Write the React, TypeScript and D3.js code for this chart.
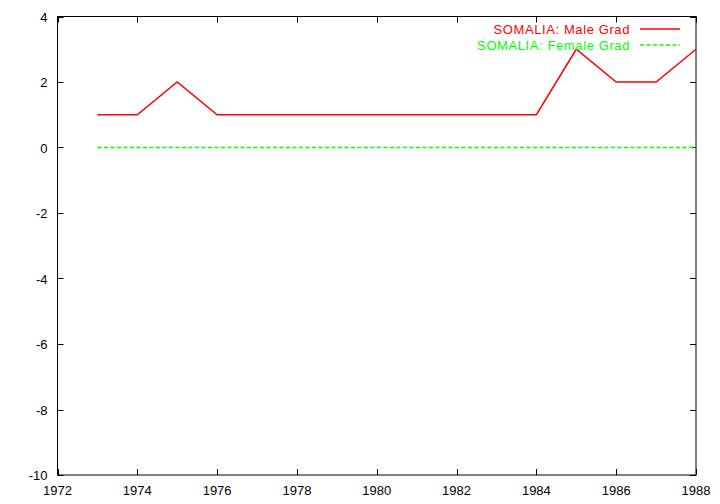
import React, { useRef, useEffect } from 'react';
import * as d3 from 'd3';

const years = [1973, 1974, 1975, 1976, 1977, 1978, 1979, 1980, 1981, 1982, 1983, 1984, 1985, 1986, 1987, 1988];
const maleGrad = [1, 1, 2, 1, 1, 1, 1, 1, 1, 1, 1, 1, 3, 2, 2, 3];
const femaleGrad = [0, 0, 0, 0, 0, 0, 0, 0, 0, 0, 0, 0, 0, 0, 0, 0];
const xTicks = [1972, 1974, 1976, 1978, 1980, 1982, 1984, 1986, 1988];
const yTicks = [-10, -8, -6, -4, -2, 0, 2, 4];

const W = 720;
const H = 504;
const margin = { left: 57.5, right: 24, top: 16.5, bottom: 29 };

const App: React.FC = () => {
  const svgRef = useRef<SVGSVGElement>(null);

  useEffect(() => {
    if (!svgRef.current) return;
    const svg = d3.select(svgRef.current);
    svg.selectAll('*').remove();

    const x = d3.scaleLinear().domain([1972, 1988]).range([margin.left, W - margin.right]);
    const y = d3.scaleLinear().domain([-10, 4]).range([H - margin.bottom, margin.top]);
    const font = 'Liberation Sans, Arial, Helvetica, sans-serif';
    const tick = 6;

    // frame
    svg.append('rect')
      .attr('x', x(1972)).attr('y', y(4))
      .attr('width', x(1988) - x(1972)).attr('height', y(-10) - y(4))
      .attr('fill', 'none').attr('stroke', 'black').attr('stroke-width', 1);

    // x ticks (bottom and top, pointing inward)
    xTicks.forEach(t => {
      const px = Math.round(x(t)) + 0.5;
      svg.append('line').attr('x1', px).attr('x2', px)
        .attr('y1', y(-10)).attr('y2', y(-10) - tick).attr('stroke', 'black');
      svg.append('line').attr('x1', px).attr('x2', px)
        .attr('y1', y(4)).attr('y2', y(4) + tick).attr('stroke', 'black');
      svg.append('text').attr('x', x(t)).attr('y', y(-10) + 20)
        .attr('text-anchor', 'middle').attr('font-family', font).attr('font-size', 13)
        .text(t);
    });

    // y ticks (left and right)
    yTicks.forEach(t => {
      const py = Math.round(y(t)) + 0.5;
      svg.append('line').attr('x1', x(1972)).attr('x2', x(1972) + tick)
        .attr('y1', py).attr('y2', py).attr('stroke', 'black');
      svg.append('line').attr('x1', x(1988)).attr('x2', x(1988) - tick)
        .attr('y1', py).attr('y2', py).attr('stroke', 'black');
      svg.append('text').attr('x', x(1972) - 10).attr('y', y(t) + 5)
        .attr('text-anchor', 'end').attr('font-family', font).attr('font-size', 13)
        .text(t);
    });

    const line = d3.line<number>()
      .x((_, i) => x(years[i]))
      .y(d => y(d));

    svg.append('path').datum(femaleGrad)
      .attr('d', line).attr('fill', 'none')
      .attr('stroke', '#00ff00').attr('stroke-width', 1.5).attr('stroke-dasharray', '4,2.5');

    svg.append('path').datum(maleGrad)
      .attr('d', line).attr('fill', 'none')
      .attr('stroke', '#ff0000').attr('stroke-width', 1.5);

    // legend
    const legend = [
      { label: 'SOMALIA: Male Grad', color: '#ff0000', dash: null, yy: 29 },
      { label: 'SOMALIA: Female Grad', color: '#00ff00', dash: '4,2.5', yy: 45 },
    ];
    legend.forEach(l => {
      svg.append('text').attr('x', 630).attr('y', l.yy + 5)
        .attr('text-anchor', 'end').attr('font-family', font).attr('font-size', 13)
        .attr('letter-spacing', 0.6)
        .attr('fill', l.color).text(l.label);
      svg.append('line').attr('x1', 640).attr('x2', 680)
        .attr('y1', l.yy).attr('y2', l.yy)
        .attr('stroke', l.color).attr('stroke-width', 1.5)
        .attr('stroke-dasharray', l.dash);
    });
  }, []);

  return (
    <svg ref={svgRef} width={W} height={H}
      style={{ position: 'absolute', left: 0, top: 0, background: 'white' }} />
  );
};

export default App;
